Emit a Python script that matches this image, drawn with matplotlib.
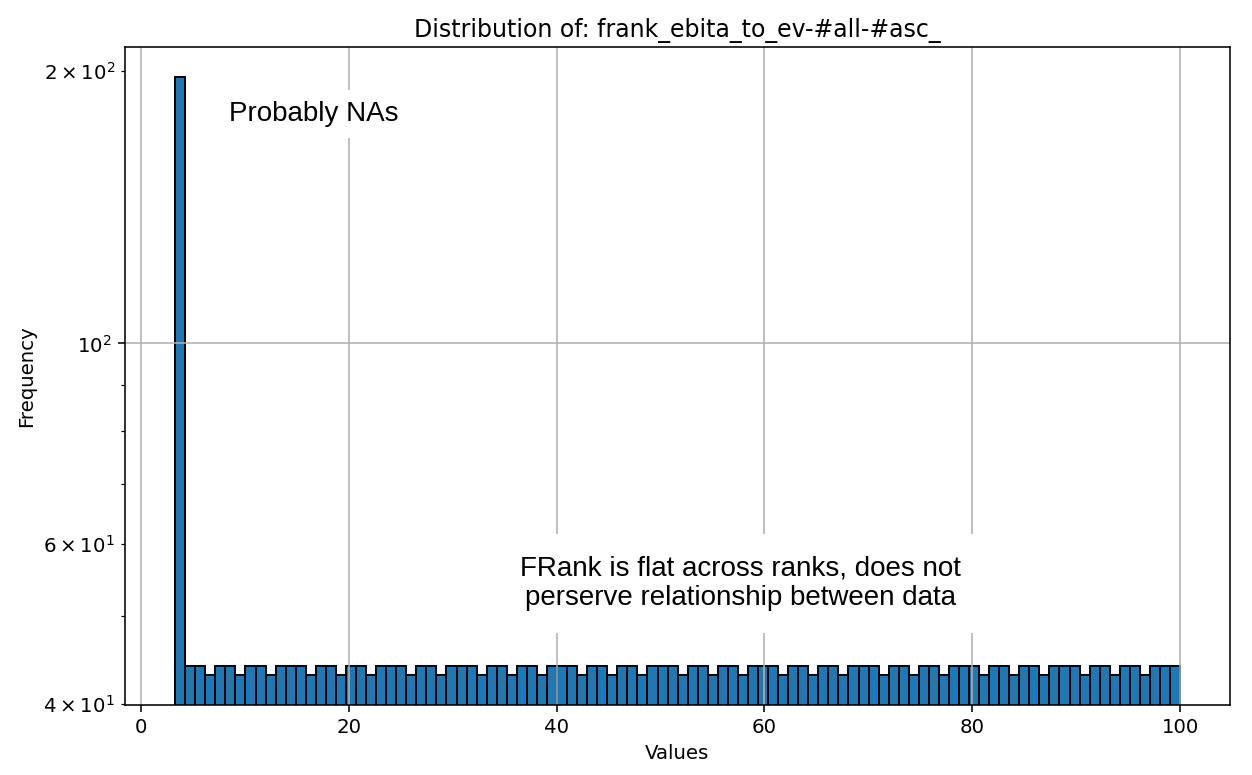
import numpy as np
import matplotlib
matplotlib.use("Agg")
import matplotlib.pyplot as plt

title = "Distribution of: frank_ebita_to_ev-#all-#asc_"
bin_min = 3.3
bin_max = 100.0
n_bins = 100
counts = [
    197, 44, 44, 43, 44, 44, 43, 44, 44, 43,
    44, 44, 44, 43, 44, 44, 43, 44, 44, 43,
    44, 44, 44, 43, 44, 44, 43, 44, 44, 44,
    43, 44, 44, 43, 44, 44, 43, 44, 44, 44,
    43, 44, 44, 43, 44, 44, 43, 44, 44, 44,
    43, 44, 44, 43, 44, 44, 43, 44, 44, 44,
    43, 44, 44, 43, 44, 44, 43, 44, 44, 44,
    43, 44, 44, 43, 44, 44, 43, 44, 44, 44,
    43, 44, 44, 43, 44, 44, 43, 44, 44, 44,
    43, 44, 44, 43, 44, 44, 43, 44, 44, 44,
]
note1 = "Probably NAs"
note2 = "FRank is flat across ranks, does not\nperserve relationship between data"

s = 1.137
plt.rcParams.update({
    "font.size": 10 * s,
    "axes.titlesize": 12 * s,
    "axes.linewidth": 0.8 * s,
    "grid.linewidth": 0.8 * s,
    "patch.linewidth": 1.0 * s,
    "xtick.major.size": 3.5 * s,
    "ytick.major.size": 3.5 * s,
    "xtick.minor.size": 2.0 * s,
    "ytick.minor.size": 2.0 * s,
    "xtick.major.width": 0.8 * s,
    "ytick.major.width": 0.8 * s,
    "ytick.minor.width": 0.6 * s,
})

edges = np.linspace(bin_min, bin_max, n_bins + 1)
lefts = edges[:-1]

fig = plt.figure(figsize=(10.016, 6.2), dpi=125)
ax = fig.add_axes([0.0998, 0.0903, 0.8826, 0.8491])
ax.hist(lefts, bins=edges, weights=counts, log=True,
        color="#1f77b4", edgecolor="black")
ax.set_ylim(39.85, 212.6)
ax.set_xlim(-1.53, 104.8)
ax.grid(True)
ax.set_title(title)
ax.set_xlabel("Values")
ax.set_ylabel("Frequency")

ax.text(8.45, 176, note1, family="Liberation Sans", fontsize=16,
        ha="left", va="baseline",
        bbox=dict(boxstyle="square,pad=0.4", fc="white", ec="none"))
ax.text(57.7, 54.3, note2, family="Liberation Sans", fontsize=16,
        ha="center", va="center", multialignment="center", linespacing=1.15,
        bbox=dict(boxstyle="square,pad=0.8", fc="white", ec="none"))

fig.savefig("out.png", dpi=125)
